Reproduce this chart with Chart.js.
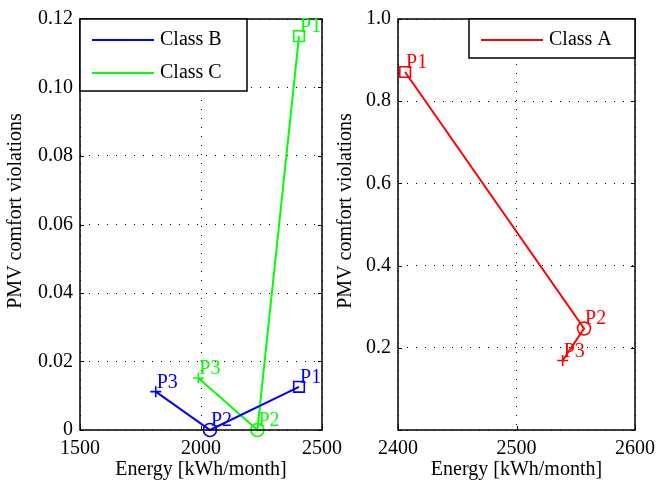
<!DOCTYPE html>
<html>
<head>
<meta charset="utf-8">
<script src="https://cdn.jsdelivr.net/npm/chart.js@4.4.1/dist/chart.umd.min.js"></script>
<style>
    body { margin: 0; background: #fff; width: 662px; height: 485px; position: relative; overflow: hidden; }
    #left { position: absolute; left: 0; top: 0; width: 350px; height: 485px; }
    #right { position: absolute; left: 331px; top: 0; width: 331px; height: 485px; }
</style>
</head>
<body>
<div id="left"><canvas id="chartLeft"></canvas></div>
<div id="right"><canvas id="chartRight"></canvas></div>
<script>
const pointNames = ['P1', 'P2', 'P3'];
const pointStyles = ['rect', 'circle', 'cross'];

const classAEnergy = [2406, 2557, 2539];
const classAPmv = [0.871, 0.247, 0.169];

const classBEnergy = [2405, 2037, 1813];
const classBPmv = [0.0126, 0, 0.0112];

const classCEnergy = [2405, 2233, 1989];
const classCPmv = [0.115, 0, 0.0152];

const leftXTicks = [1500, 2000, 2500];
const leftYTicks = [0, 0.02, 0.04, 0.06, 0.08, 0.10, 0.12];
const rightXTicks = [2400, 2500, 2600];
const rightYTicks = [0, 0.2, 0.4, 0.6, 0.8, 1.0];

const FONT = '"Liberation Serif", "Times New Roman", serif';
Chart.defaults.font.family = FONT;
Chart.defaults.font.size = 20;
Chart.defaults.color = '#000';

function series(label, color, xs, ys) {
    return {
        label: label,
        data: xs.map((x, i) => ({ x: x, y: ys[i] })),
        borderColor: color,
        backgroundColor: color,
        borderWidth: 2,
        pointStyle: pointStyles,
        pointRadius: [7.5, 6.5, 5.5],
        pointBorderWidth: 1.6,
        pointBackgroundColor: 'rgba(0,0,0,0)',
        pointBorderColor: color,
        clip: false,
        tension: 0
    };
}

// draws box, inner ticks, y title, point names and the boxed legend
const decorPlugin = {
    id: 'decor',
    afterDatasetsDraw(chart, args, opts) {
        const ctx = chart.ctx;
        const a = chart.chartArea;
        const xs = chart.scales.x, ys = chart.scales.y;
        ctx.save();
        ctx.strokeStyle = '#000';
        ctx.lineWidth = 1;
        ctx.beginPath();
        opts.xTicks.forEach(v => {
            const px = Math.round(xs.getPixelForValue(v)) + 0.5;
            ctx.moveTo(px, a.bottom); ctx.lineTo(px, a.bottom - 4);
            ctx.moveTo(px, a.top); ctx.lineTo(px, a.top + 4);
        });
        opts.yTicks.forEach(v => {
            const py = Math.round(ys.getPixelForValue(v)) + 0.5;
            ctx.moveTo(a.left, py); ctx.lineTo(a.left + 4, py);
            ctx.moveTo(a.right, py); ctx.lineTo(a.right - 4, py);
        });
        ctx.stroke();
        ctx.lineWidth = 1.5;
        ctx.strokeRect(a.left, a.top, a.right - a.left, a.bottom - a.top);

        // y axis title
        ctx.font = '20px ' + FONT;
        ctx.fillStyle = '#000';
        ctx.textAlign = 'center';
        ctx.textBaseline = 'middle';
        ctx.save();
        ctx.translate(opts.titleX, 211);
        ctx.rotate(-Math.PI / 2);
        ctx.fillText('PMV comfort violations', 0, 0);
        ctx.restore();

        // point names
        ctx.textAlign = 'left';
        ctx.textBaseline = 'alphabetic';
        chart.data.datasets.forEach(ds => {
            ds.data.forEach((p, i) => {
                ctx.fillStyle = ds.borderColor;
                ctx.fillText(pointNames[i], xs.getPixelForValue(p.x) + 1, ys.getPixelForValue(p.y) - 4);
            });
        });

        // legend
        const w = opts.legendWidth;
        const h = 21 + 33 * (chart.data.datasets.length - 1) + 18;
        const lx = opts.legendAlign === 'right' ? a.right - w : a.left;
        const ly = a.top;
        ctx.fillStyle = '#fff';
        ctx.fillRect(lx, ly, w, h);
        ctx.strokeStyle = '#000';
        ctx.lineWidth = 1.5;
        ctx.strokeRect(lx, ly, w, h);
        ctx.textBaseline = 'middle';
        chart.data.datasets.forEach((ds, i) => {
            const y = ly + 21 + 33 * i;
            ctx.strokeStyle = ds.borderColor;
            ctx.lineWidth = 2;
            ctx.beginPath();
            ctx.moveTo(lx + 12, y); ctx.lineTo(lx + 74, y);
            ctx.stroke();
            ctx.fillStyle = '#000';
            ctx.fillText(ds.label, lx + 80, y);
        });
        ctx.restore();
    }
};

function makeChart(id, datasets, cfg) {
    return new Chart(document.getElementById(id), {
        type: 'line',
        data: { datasets: datasets },
        plugins: [decorPlugin],
        options: {
            responsive: true,
            maintainAspectRatio: false,
            animation: false,
            layout: { padding: { left: 0, right: cfg.rightPad, top: 17, bottom: 0 } },
            plugins: {
                legend: { display: false },
                tooltip: { enabled: false },
                decor: {
                    xTicks: cfg.xTicks, yTicks: cfg.yTicks, titleX: cfg.titleX,
                    legendWidth: cfg.legendWidth, legendAlign: cfg.legendAlign
                }
            },
            scales: {
                x: {
                    type: 'linear',
                    min: cfg.xTicks[0],
                    max: cfg.xTicks[cfg.xTicks.length - 1],
                    afterBuildTicks: s => { s.ticks = cfg.xTicks.map(v => ({ value: v })); },
                    afterFit: s => { s.height = 55; },
                    ticks: { padding: 7, maxRotation: 0, autoSkip: false, callback: v => String(v) },
                    grid: { color: '#000', lineWidth: 1, drawTicks: false },
                    border: { display: false, dash: [1, 8] },
                    title: { display: true, text: 'Energy [kWh/month]', padding: { top: 0, bottom: 3 } }
                },
                y: {
                    type: 'linear',
                    min: cfg.yTicks[0],
                    max: cfg.yTicks[cfg.yTicks.length - 1],
                    afterBuildTicks: s => { s.ticks = cfg.yTicks.map(v => ({ value: v })); },
                    afterFit: s => { s.width = cfg.yWidth; },
                    ticks: { padding: 7, autoSkip: false, callback: cfg.yFormat },
                    grid: { color: '#000', lineWidth: 1, drawTicks: false },
                    border: { display: false, dash: [1, 8] }
                }
            }
        }
    });
}

makeChart('chartLeft', [
    series('Class B', '#0000ff', classBEnergy, classBPmv),
    series('Class C', '#00ff00', classCEnergy, classCPmv)
], {
    xTicks: leftXTicks, yTicks: leftYTicks, rightPad: 28, yWidth: 80, titleX: 16,
    legendWidth: 167, legendAlign: 'left',
    yFormat: v => v === 0 ? '0' : v.toFixed(2)
});

makeChart('chartRight', [
    series('Class A', '#ff0000', classAEnergy, classAPmv)
], {
    xTicks: rightXTicks, yTicks: rightYTicks, rightPad: 21, yWidth: 67, titleX: 15,
    legendWidth: 166, legendAlign: 'right',
    yFormat: v => v === 0 ? '' : v.toFixed(1)
});
</script>
</body>
</html>
